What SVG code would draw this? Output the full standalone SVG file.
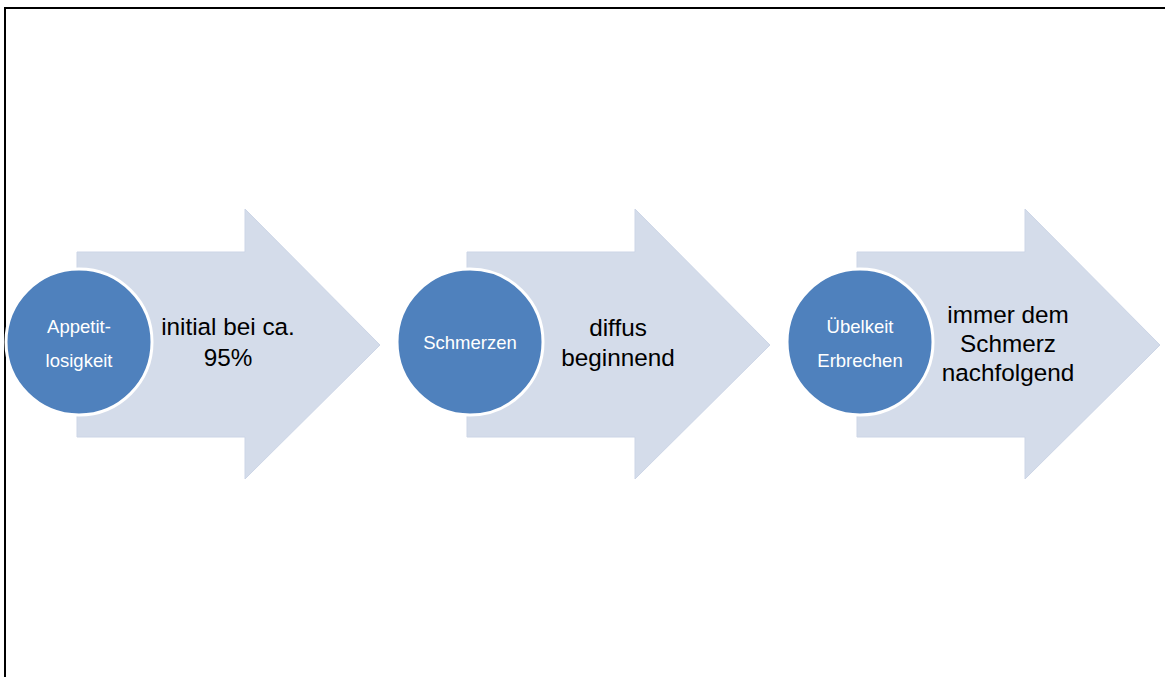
<svg xmlns="http://www.w3.org/2000/svg" width="1165" height="677" viewBox="0 0 1165 677">
<style>
.arrow{fill:#D4DCEA;stroke:#CCD5E6;stroke-width:1}
.circ{fill:#4F81BD;stroke:#FFFFFF;stroke-width:3}
.ct{font-family:"Liberation Sans",Arial,sans-serif;font-size:18.5px;fill:#FFFFFF;text-anchor:middle}
.at{font-family:"Liberation Sans",Arial,sans-serif;font-size:24.3px;fill:#000000;text-anchor:middle}
</style>
<rect x="0" y="0" width="1165" height="677" fill="#FFFFFF"/>
<path d="M5,677 V8 H1165" fill="none" stroke="#000000" stroke-width="2"/>
<g id="connectors"></g>
<g id="step1">
<path class="arrow" d="M77,252 H245 V209 L380,345 L245,479 V437 H77 Z"/>
<circle class="circ" cx="79" cy="342" r="73"/>
<text class="ct" x="79" y="333">Appetit-</text>
<text class="ct" x="79" y="367">losigkeit</text>
<text class="at" x="228" y="335">initial bei ca.</text>
<text class="at" x="228" y="366">95%</text>
</g>
<g id="step2">
<path class="arrow" d="M467,252 H635 V209 L770,345 L635,479 V437 H467 Z"/>
<circle class="circ" cx="470" cy="342" r="73"/>
<text class="ct" x="470" y="349">Schmerzen</text>
<text class="at" x="618" y="336">diffus</text>
<text class="at" x="618" y="366">beginnend</text>
</g>
<g id="step3">
<path class="arrow" d="M857,252 H1025 V209 L1160,345 L1025,479 V437 H857 Z"/>
<circle class="circ" cx="860" cy="342" r="73"/>
<text class="ct" x="860" y="333">Übelkeit</text>
<text class="ct" x="860" y="367">Erbrechen</text>
<text class="at" x="1008" y="323">immer dem</text>
<text class="at" x="1008" y="352">Schmerz</text>
<text class="at" x="1008" y="381">nachfolgend</text>
</g>
</svg>
